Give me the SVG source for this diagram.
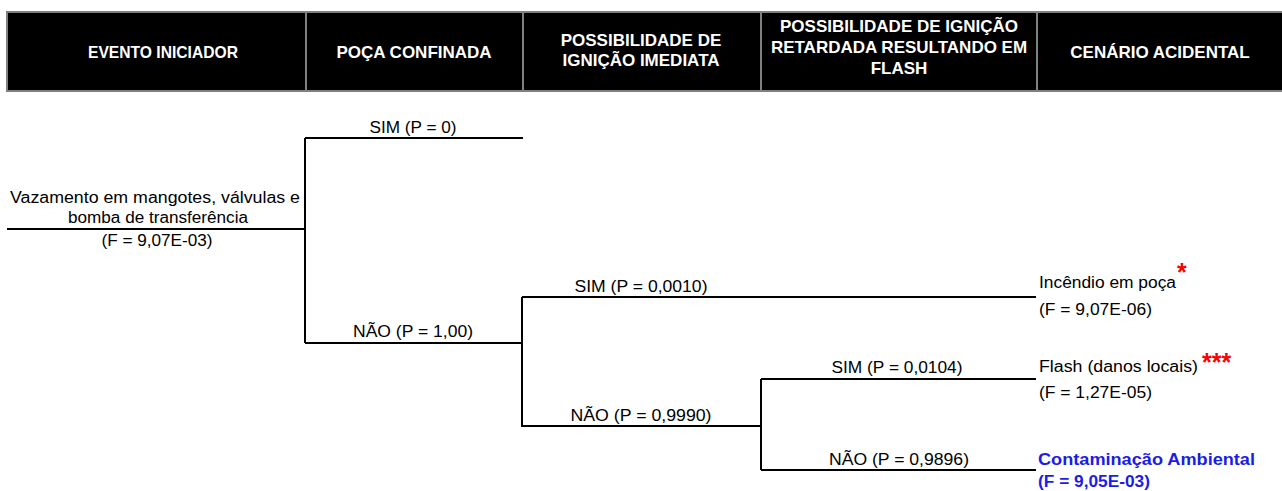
<svg xmlns="http://www.w3.org/2000/svg" width="1282" height="491" viewBox="0 0 1282 491">
<style>
.hd{font-family:"Liberation Sans",Arial,sans-serif;font-weight:bold;font-size:17px;fill:#fff;text-anchor:middle}
.t{font-family:"Liberation Sans",Arial,sans-serif;font-size:16px;fill:#000}
.c{text-anchor:middle}
.b{font-family:"Liberation Sans",Arial,sans-serif;font-size:16px;font-weight:bold;fill:#1c1ce6}
.star{font-family:"Liberation Sans",Arial,sans-serif;font-size:25px;font-weight:bold;fill:#ff0000}
.ln{stroke:#000;stroke-width:2;fill:none}
.sep{stroke:#808080;stroke-width:2}
</style>
<rect width="1282" height="491" fill="#fff"/>
<g id="header">
<rect x="7" y="12" width="1280" height="79" fill="#000" stroke="#808080" stroke-width="2"/>
<line class="sep" x1="306" y1="12" x2="306" y2="91"/>
<line class="sep" x1="523" y1="12" x2="523" y2="91"/>
<line class="sep" x1="761" y1="12" x2="761" y2="91"/>
<line class="sep" x1="1037" y1="12" x2="1037" y2="91"/>
<text class="hd" x="163" y="58" textLength="150" lengthAdjust="spacingAndGlyphs">EVENTO INICIADOR</text>
<text class="hd" x="414" y="58">POÇA CONFINADA</text>
<text class="hd" x="641" y="46">POSSIBILIDADE DE</text>
<text class="hd" x="641" y="66">IGNIÇÃO IMEDIATA</text>
<text class="hd" x="899" y="32">POSSIBILIDADE DE IGNIÇÃO</text>
<text class="hd" x="899" y="53">RETARDADA RESULTANDO EM</text>
<text class="hd" x="899" y="74">FLASH</text>
<text class="hd" x="1160" y="58">CENÁRIO ACIDENTAL</text>
</g>
<g id="connectors">
<path class="ln" d="M7 229H305"/>
<path class="ln" d="M305 138V343"/>
<path class="ln" d="M305 138H523"/>
<path class="ln" d="M305 343H522"/>
<path class="ln" d="M522 297V427"/>
<path class="ln" d="M522 297H1036"/>
<path class="ln" d="M522 426H761"/>
<path class="ln" d="M761 379V470"/>
<path class="ln" d="M761 379H1036"/>
<path class="ln" d="M761 470H1036"/>
</g>
<g id="node-inicial">
<text class="t c" x="155" y="203" textLength="290" lengthAdjust="spacingAndGlyphs">Vazamento em mangotes, válvulas e</text>
<text class="t c" x="158" y="223" textLength="180" lengthAdjust="spacingAndGlyphs">bomba de transferência</text>
<text class="t c" x="157" y="246" textLength="111" lengthAdjust="spacingAndGlyphs">(F = 9,07E-03)</text>
</g>
<g id="labels-branches">
<text class="t c" x="413" y="133" textLength="87" lengthAdjust="spacingAndGlyphs">SIM (P = 0)</text>
<text class="t c" x="413" y="337" textLength="120" lengthAdjust="spacingAndGlyphs">NÃO (P = 1,00)</text>
<text class="t c" x="641" y="292" textLength="133" lengthAdjust="spacingAndGlyphs">SIM (P = 0,0010)</text>
<text class="t c" x="641" y="421" textLength="141" lengthAdjust="spacingAndGlyphs">NÃO (P = 0,9990)</text>
<text class="t c" x="897" y="373" textLength="131" lengthAdjust="spacingAndGlyphs">SIM (P = 0,0104)</text>
<text class="t c" x="899" y="465" textLength="140" lengthAdjust="spacingAndGlyphs">NÃO (P = 0,9896)</text>
</g>
<g id="node-incendio">
<text class="t" x="1039" y="288" textLength="137" lengthAdjust="spacingAndGlyphs">Incêndio em poça</text>
<text class="star" x="1177" y="281">*</text>
<text class="t" x="1039" y="315" textLength="113" lengthAdjust="spacingAndGlyphs">(F = 9,07E-06)</text>
</g>
<g id="node-flash">
<text class="t" x="1039" y="372" textLength="159" lengthAdjust="spacingAndGlyphs">Flash (danos locais)</text>
<text class="star" x="1202" y="371">***</text>
<text class="t" x="1039" y="398" textLength="113" lengthAdjust="spacingAndGlyphs">(F = 1,27E-05)</text>
</g>
<g id="node-contaminacao">
<text class="b" x="1038" y="465" textLength="217" lengthAdjust="spacingAndGlyphs">Contaminação Ambiental</text>
<text class="b" x="1038" y="487" textLength="112" lengthAdjust="spacingAndGlyphs">(F = 9,05E-03)</text>
</g>
</svg>
